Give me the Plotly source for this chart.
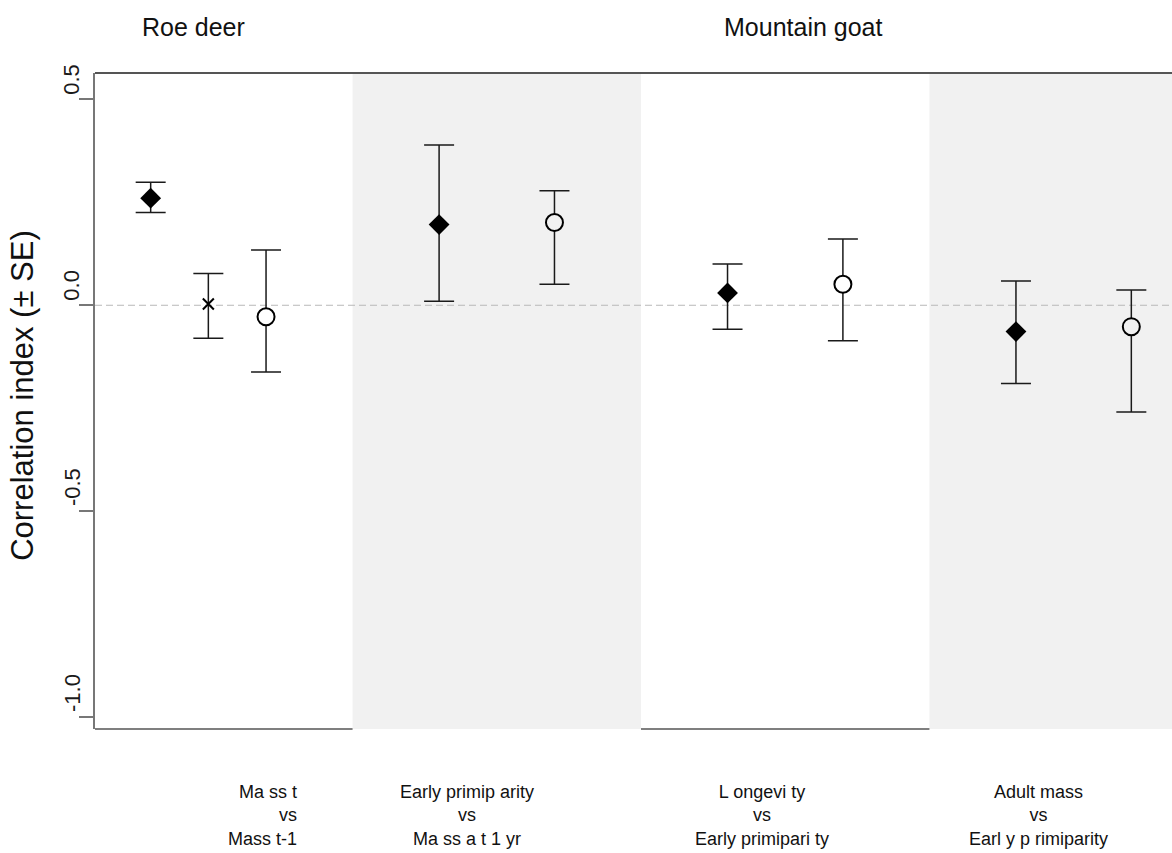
import plotly.graph_objects as go

# Trade-off pairs (one panel each) and their labels
pair_labels = [
    "Ma ss t<br>vs<br>Mass t-1",
    "Early primip arity<br>vs<br>Ma ss a t 1 yr",
    "L ongevi ty<br>vs<br>Early primipari ty",
    "Adult mass<br>vs<br>Earl y p rimiparity",
]
species = ["Roe deer", "Mountain goat"]

# Filled diamonds (one per panel)
diamond_x = [0.3, 1.3, 2.3, 3.3]
diamond_val = [0.260, 0.196, 0.030, -0.064]
diamond_hi = [0.299, 0.389, 0.100, 0.059]
diamond_lo = [0.225, 0.010, -0.058, -0.190]

# Cross (first panel only)
cross_x = [0.5]
cross_val = [0.003]
cross_hi = [0.077]
cross_lo = [-0.080]

# Open circles (one per panel)
circle_x = [0.7, 1.7, 2.7, 3.7]
circle_val = [-0.028, 0.201, 0.051, -0.052]
circle_hi = [0.134, 0.278, 0.161, 0.037]
circle_lo = [-0.162, 0.051, -0.086, -0.259]

y_ticks = [-1.0, -0.5, 0.0, 0.5]
y_tick_text = ["-1.0", "-0.5", "0.0", "0.5"]

FONT = "Arial, Liberation Sans, sans-serif"
X_RANGE = [0.107, 3.841]
Y_RANGE = [-1.029, 0.564]
SHADE = "#f1f1f1"


def err(vals, hi, lo):
    return dict(
        type="data", symmetric=False,
        array=[h - v for v, h in zip(vals, hi)],
        arrayminus=[v - l for v, l in zip(vals, lo)],
        color="#1a1a1a", thickness=1.5, width=15,
    )


fig = go.Figure()

fig.add_trace(go.Scatter(
    x=diamond_x, y=diamond_val, mode="markers",
    marker=dict(symbol="diamond", size=16, color="black", line=dict(width=0)),
    error_y=err(diamond_val, diamond_hi, diamond_lo),
    showlegend=False,
))
fig.add_trace(go.Scatter(
    x=cross_x, y=cross_val, mode="markers",
    marker=dict(symbol="x-thin", size=11, color="black",
                line=dict(width=2, color="black")),
    error_y=err(cross_val, cross_hi, cross_lo),
    showlegend=False,
))
circle_fill = ["white" if int(x) % 2 == 0 else SHADE for x in circle_x]
fig.add_trace(go.Scatter(
    x=circle_x, y=circle_val, mode="markers",
    marker=dict(symbol="circle", size=17, color=circle_fill,
                line=dict(width=2, color="black")),
    error_y=err(circle_val, circle_hi, circle_lo),
    showlegend=False,
))

shapes = []
# Shaded alternate panels
for p in range(len(pair_labels)):
    if p % 2 == 1:
        shapes.append(dict(type="rect", xref="x", yref="paper",
                           x0=p, x1=p + 1, y0=0, y1=1,
                           fillcolor=SHADE, line=dict(width=0), layer="below"))
# Zero reference line
shapes.append(dict(type="line", xref="x", yref="y",
                   x0=X_RANGE[0], x1=X_RANGE[1], y0=0, y1=0,
                   line=dict(color="#b8b8b8", width=1, dash="7px,4px"),
                   layer="below"))
# Bottom frame under the white panels
for p in range(len(pair_labels)):
    if p % 2 == 0:
        shapes.append(dict(type="line", xref="x", yref="paper",
                           x0=max(p, X_RANGE[0]), x1=p + 1, y0=0, y1=0,
                           line=dict(color="#555555", width=1.5), layer="above"))
# Top frame
shapes.append(dict(type="line", xref="paper", yref="paper",
                   x0=0, x1=1, y0=1, y1=1,
                   line=dict(color="#555555", width=2), layer="above"))

annotations = []
# Rotated tick labels
for v, t in zip(y_ticks, y_tick_text):
    annotations.append(dict(
        xref="paper", yref="y", x=-0.0214, y=v, text=t, textangle=-90,
        showarrow=False, xanchor="center", yanchor="bottom", yshift=3,
        font=dict(family=FONT, size=22, color="#1a1a1a"),
    ))
# Axis title
annotations.append(dict(
    xref="paper", yref="paper", x=-0.068, y=0.509,
    text="Correlation index (\u00b1 SE)", textangle=-90, showarrow=False,
    xanchor="center", yanchor="middle",
    font=dict(family=FONT, size=31, color="#111111"),
))
# Species headings
for name, xc in zip(species, [0.447, 2.564]):
    annotations.append(dict(
        xref="x", yref="paper", x=xc, y=1.070, text=name, showarrow=False,
        xanchor="center", yanchor="middle",
        font=dict(family=FONT, size=25, color="#111111"),
    ))
# Pair labels beneath the panels
label_pos = [(0.815, "right"), (1.397, "center"), (2.418, "center"), (3.377, "center")]
for text, (xc, anchor) in zip(pair_labels, label_pos):
    annotations.append(dict(
        xref="x", yref="paper", x=xc, y=-0.078, text=text, showarrow=False,
        xanchor=anchor, yanchor="top", align=anchor,
        font=dict(family=FONT, size=18, color="#111111"),
    ))

fig.update_layout(
    width=1172, height=853,
    margin=dict(l=95, r=0, t=73, b=124),
    paper_bgcolor="white", plot_bgcolor="white",
    shapes=shapes, annotations=annotations,
    xaxis=dict(range=X_RANGE, showgrid=False, zeroline=False,
               showticklabels=False, ticks="", showline=False, fixedrange=True),
    yaxis=dict(range=Y_RANGE, showgrid=False, zeroline=False,
               tickvals=y_ticks, showticklabels=False,
               ticks="outside", ticklen=14, tickwidth=1.5, tickcolor="#777777",
               showline=True, linecolor="#777777", linewidth=1.5),
)

fig.write_html("out.html")
